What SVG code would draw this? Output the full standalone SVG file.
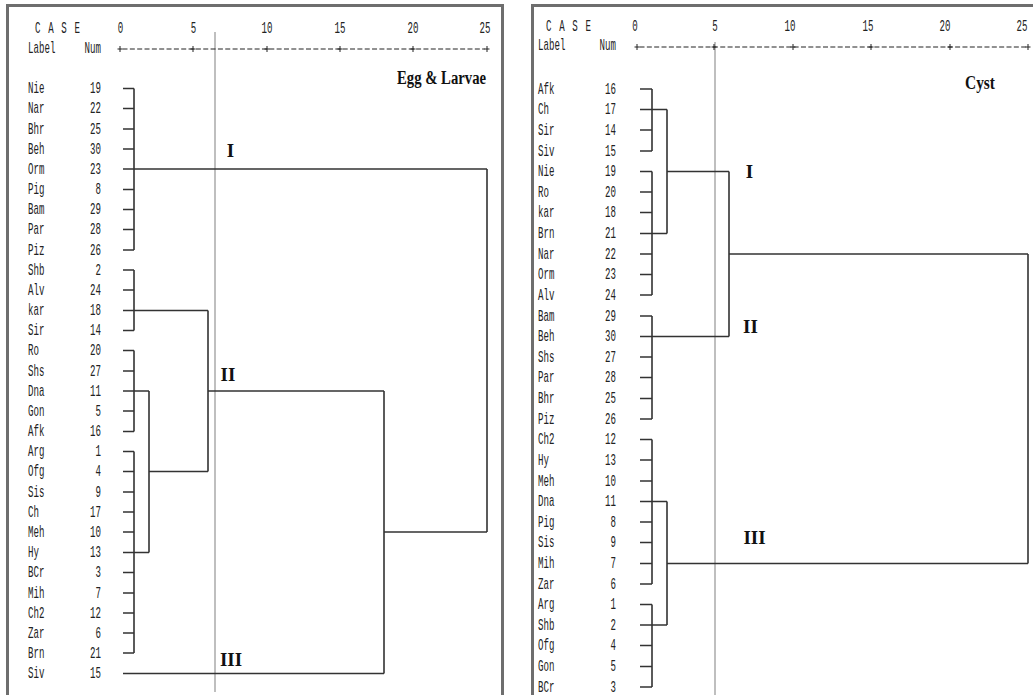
<svg xmlns="http://www.w3.org/2000/svg" width="1033" height="695" viewBox="0 0 1033 695">
<style>
.frame{fill:none;stroke:#6e6e6e;stroke-width:3}
.grid{stroke:#aaaaaa;stroke-width:1.5;fill:none}
.tree{fill:none;stroke:#333;stroke-width:1.6}
.axis{stroke:#222;stroke-width:1;fill:none}
.dash{stroke:#222;stroke-width:1;stroke-dasharray:5 2.34;fill:none}
.mono{font-family:"Liberation Mono","DejaVu Sans Mono",monospace;font-size:16px;fill:#222}
.num{text-anchor:end}
.mid{text-anchor:middle}
.roman{font-family:"Liberation Serif","Times New Roman",serif;font-weight:bold;font-size:19px;fill:#111}
.title{font-family:"Liberation Serif","Times New Roman",serif;font-weight:bold;font-size:18px;fill:#111}
</style>
<rect width="1033" height="695" fill="#fff"/>
<g id="frames">
<path class="frame" d="M7.5,700 V5.5 H502.5 V700"/>
<path class="frame" d="M532.5,700 V5.5 H1040"/>
</g>
<g id="guides">
<line class="grid" x1="215" y1="32" x2="215" y2="692"/>
<line class="grid" x1="715" y1="42" x2="715" y2="695"/>
</g>
<g id="left-axis">
<g class="mono" transform="translate(35,33) scale(0.57 1)"><text x="0" y="0" textLength="79" lengthAdjust="spacing">C A S E</text></g>
<g class="mono" transform="translate(28,53) scale(0.57 1)"><text x="0" y="0">Label</text><text class="num" x="128.1" y="0">Num</text></g>
<g class="mono mid" transform="translate(0,33) scale(0.57 1)">
<text x="211.4" y="0">0</text><text x="339.5" y="0">5</text><text x="468.4" y="0">10</text><text x="596.5" y="0">15</text><text x="724.6" y="0">20</text><text x="850.9" y="0">25</text>
</g>
<line class="dash" x1="122.5" y1="49" x2="485" y2="49"/>
<path class="axis" d="M117.5,49 H122.5 M120,46 V52 M190.5,49 H195.5 M193,46 V52 M264.5,49 H269.5 M267,46 V52 M337.5,49 H342.5 M340,46 V52 M410.5,49 H415.5 M413,46 V52 M484.5,49 H489.5 M487,46 V52"/>
<text class="title" x="486" y="84" text-anchor="end" textLength="89" lengthAdjust="spacingAndGlyphs">Egg &amp; Larvae</text>
</g>
<g id="right-axis">
<g class="mono" transform="translate(546,31) scale(0.57 1)"><text x="0" y="0" textLength="79" lengthAdjust="spacing">C A S E</text></g>
<g class="mono" transform="translate(538,50) scale(0.57 1)"><text x="0" y="0">Label</text><text class="num" x="136.8" y="0">Num</text></g>
<g class="mono mid" transform="translate(0,31) scale(0.57 1)">
<text x="1114" y="0">0</text><text x="1254.4" y="0">5</text><text x="1386" y="0">10</text><text x="1522.8" y="0">15</text><text x="1657.9" y="0">20</text><text x="1793" y="0">25</text>
</g>
<line class="dash" x1="639.5" y1="47" x2="1026" y2="47"/>
<path class="axis" d="M634.5,47 H639.5 M637,44 V50 M711.5,47 H716.5 M714,44 V50 M790.5,47 H795.5 M793,44 V50 M868.5,47 H873.5 M871,44 V50 M947.5,47 H952.5 M950,44 V50 M1025.5,47 H1030.5 M1028,44 V50"/>
<text class="title" x="965" y="89" textLength="30" lengthAdjust="spacingAndGlyphs">Cyst</text>
</g>
<g id="left-leaves" class="mono">
<g id="l-Nie" transform="translate(28,93) scale(0.57 1)"><text x="0">Nie</text><text class="num" x="128.1">19</text></g>
<g id="l-Nar" transform="translate(28,113) scale(0.57 1)"><text x="0">Nar</text><text class="num" x="128.1">22</text></g>
<g id="l-Bhr" transform="translate(28,133.5) scale(0.57 1)"><text x="0">Bhr</text><text class="num" x="128.1">25</text></g>
<g id="l-Beh" transform="translate(28,153.5) scale(0.57 1)"><text x="0">Beh</text><text class="num" x="128.1">30</text></g>
<g id="l-Orm" transform="translate(28,173.5) scale(0.57 1)"><text x="0">Orm</text><text class="num" x="128.1">23</text></g>
<g id="l-Pig" transform="translate(28,194) scale(0.57 1)"><text x="0">Pig</text><text class="num" x="128.1">8</text></g>
<g id="l-Bam" transform="translate(28,214) scale(0.57 1)"><text x="0">Bam</text><text class="num" x="128.1">29</text></g>
<g id="l-Par" transform="translate(28,234) scale(0.57 1)"><text x="0">Par</text><text class="num" x="128.1">28</text></g>
<g id="l-Piz" transform="translate(28,254.5) scale(0.57 1)"><text x="0">Piz</text><text class="num" x="128.1">26</text></g>
<g id="l-Shb" transform="translate(28,274.5) scale(0.57 1)"><text x="0">Shb</text><text class="num" x="128.1">2</text></g>
<g id="l-Alv" transform="translate(28,294.5) scale(0.57 1)"><text x="0">Alv</text><text class="num" x="128.1">24</text></g>
<g id="l-kar" transform="translate(28,315) scale(0.57 1)"><text x="0">kar</text><text class="num" x="128.1">18</text></g>
<g id="l-Sir" transform="translate(28,335) scale(0.57 1)"><text x="0">Sir</text><text class="num" x="128.1">14</text></g>
<g id="l-Ro" transform="translate(28,355) scale(0.57 1)"><text x="0">Ro</text><text class="num" x="128.1">20</text></g>
<g id="l-Shs" transform="translate(28,375.5) scale(0.57 1)"><text x="0">Shs</text><text class="num" x="128.1">27</text></g>
<g id="l-Dna" transform="translate(28,395.5) scale(0.57 1)"><text x="0">Dna</text><text class="num" x="128.1">11</text></g>
<g id="l-Gon" transform="translate(28,415.5) scale(0.57 1)"><text x="0">Gon</text><text class="num" x="128.1">5</text></g>
<g id="l-Afk" transform="translate(28,436) scale(0.57 1)"><text x="0">Afk</text><text class="num" x="128.1">16</text></g>
<g id="l-Arg" transform="translate(28,456) scale(0.57 1)"><text x="0">Arg</text><text class="num" x="128.1">1</text></g>
<g id="l-Ofg" transform="translate(28,476) scale(0.57 1)"><text x="0">Ofg</text><text class="num" x="128.1">4</text></g>
<g id="l-Sis" transform="translate(28,496.5) scale(0.57 1)"><text x="0">Sis</text><text class="num" x="128.1">9</text></g>
<g id="l-Ch" transform="translate(28,516.5) scale(0.57 1)"><text x="0">Ch</text><text class="num" x="128.1">17</text></g>
<g id="l-Meh" transform="translate(28,536.5) scale(0.57 1)"><text x="0">Meh</text><text class="num" x="128.1">10</text></g>
<g id="l-Hy" transform="translate(28,557) scale(0.57 1)"><text x="0">Hy</text><text class="num" x="128.1">13</text></g>
<g id="l-BCr" transform="translate(28,577) scale(0.57 1)"><text x="0">BCr</text><text class="num" x="128.1">3</text></g>
<g id="l-Mih" transform="translate(28,597.5) scale(0.57 1)"><text x="0">Mih</text><text class="num" x="128.1">7</text></g>
<g id="l-Ch2" transform="translate(28,617.5) scale(0.57 1)"><text x="0">Ch2</text><text class="num" x="128.1">12</text></g>
<g id="l-Zar" transform="translate(28,637.5) scale(0.57 1)"><text x="0">Zar</text><text class="num" x="128.1">6</text></g>
<g id="l-Brn" transform="translate(28,657.5) scale(0.57 1)"><text x="0">Brn</text><text class="num" x="128.1">21</text></g>
<g id="l-Siv" transform="translate(28,678) scale(0.57 1)"><text x="0">Siv</text><text class="num" x="128.1">15</text></g>
</g>
<g id="right-leaves" class="mono">
<g id="r-Afk" transform="translate(538,93.5) scale(0.57 1)"><text x="0">Afk</text><text class="num" x="136.8">16</text></g>
<g id="r-Ch" transform="translate(538,114) scale(0.57 1)"><text x="0">Ch</text><text class="num" x="136.8">17</text></g>
<g id="r-Sir" transform="translate(538,134.5) scale(0.57 1)"><text x="0">Sir</text><text class="num" x="136.8">14</text></g>
<g id="r-Siv" transform="translate(538,155.5) scale(0.57 1)"><text x="0">Siv</text><text class="num" x="136.8">15</text></g>
<g id="r-Nie" transform="translate(538,176) scale(0.57 1)"><text x="0">Nie</text><text class="num" x="136.8">19</text></g>
<g id="r-Ro" transform="translate(538,196.5) scale(0.57 1)"><text x="0">Ro</text><text class="num" x="136.8">20</text></g>
<g id="r-kar" transform="translate(538,217) scale(0.57 1)"><text x="0">kar</text><text class="num" x="136.8">18</text></g>
<g id="r-Brn" transform="translate(538,238) scale(0.57 1)"><text x="0">Brn</text><text class="num" x="136.8">21</text></g>
<g id="r-Nar" transform="translate(538,258.5) scale(0.57 1)"><text x="0">Nar</text><text class="num" x="136.8">22</text></g>
<g id="r-Orm" transform="translate(538,279) scale(0.57 1)"><text x="0">Orm</text><text class="num" x="136.8">23</text></g>
<g id="r-Alv" transform="translate(538,299.5) scale(0.57 1)"><text x="0">Alv</text><text class="num" x="136.8">24</text></g>
<g id="r-Bam" transform="translate(538,320.5) scale(0.57 1)"><text x="0">Bam</text><text class="num" x="136.8">29</text></g>
<g id="r-Beh" transform="translate(538,341) scale(0.57 1)"><text x="0">Beh</text><text class="num" x="136.8">30</text></g>
<g id="r-Shs" transform="translate(538,361.5) scale(0.57 1)"><text x="0">Shs</text><text class="num" x="136.8">27</text></g>
<g id="r-Par" transform="translate(538,382) scale(0.57 1)"><text x="0">Par</text><text class="num" x="136.8">28</text></g>
<g id="r-Bhr" transform="translate(538,403) scale(0.57 1)"><text x="0">Bhr</text><text class="num" x="136.8">25</text></g>
<g id="r-Piz" transform="translate(538,423.5) scale(0.57 1)"><text x="0">Piz</text><text class="num" x="136.8">26</text></g>
<g id="r-Ch2" transform="translate(538,444) scale(0.57 1)"><text x="0">Ch2</text><text class="num" x="136.8">12</text></g>
<g id="r-Hy" transform="translate(538,464.5) scale(0.57 1)"><text x="0">Hy</text><text class="num" x="136.8">13</text></g>
<g id="r-Meh" transform="translate(538,485.5) scale(0.57 1)"><text x="0">Meh</text><text class="num" x="136.8">10</text></g>
<g id="r-Dna" transform="translate(538,506) scale(0.57 1)"><text x="0">Dna</text><text class="num" x="136.8">11</text></g>
<g id="r-Pig" transform="translate(538,526.5) scale(0.57 1)"><text x="0">Pig</text><text class="num" x="136.8">8</text></g>
<g id="r-Sis" transform="translate(538,547) scale(0.57 1)"><text x="0">Sis</text><text class="num" x="136.8">9</text></g>
<g id="r-Mih" transform="translate(538,568) scale(0.57 1)"><text x="0">Mih</text><text class="num" x="136.8">7</text></g>
<g id="r-Zar" transform="translate(538,588.5) scale(0.57 1)"><text x="0">Zar</text><text class="num" x="136.8">6</text></g>
<g id="r-Arg" transform="translate(538,609) scale(0.57 1)"><text x="0">Arg</text><text class="num" x="136.8">1</text></g>
<g id="r-Shb" transform="translate(538,629.5) scale(0.57 1)"><text x="0">Shb</text><text class="num" x="136.8">2</text></g>
<g id="r-Ofg" transform="translate(538,650) scale(0.57 1)"><text x="0">Ofg</text><text class="num" x="136.8">4</text></g>
<g id="r-Gon" transform="translate(538,671) scale(0.57 1)"><text x="0">Gon</text><text class="num" x="136.8">5</text></g>
<g id="r-BCr" transform="translate(538,691.5) scale(0.57 1)"><text x="0">BCr</text><text class="num" x="136.8">3</text></g>
</g>
<g id="connectors">
<path class="tree" d="M123,88.5H134 M123,108.5H134 M123,129H134 M123,149H134 M123,169H487 M123,189.5H134 M123,209.5H134 M123,229.5H134 M123,250H134 M123,270H134 M123,290H134 M123,310.5H208 M123,330.5H134 M123,350.5H134 M123,371H134 M123,391H149 M123,411H134 M123,431.5H134 M123,451.5H134 M123,471.5H134 M123,492H134 M123,512H134 M123,532H134 M123,552.5H149 M123,572.5H134 M123,593H134 M123,613H134 M123,633H134 M123,653H134 M123,673.5H384"/>
<path class="tree" d="M134,88.5V250 M134,270V330.5 M134,350.5V431.5 M134,451.5V653 M149,391V552.5 M149,471.5H208 M208,310.5V471.5 M208,391H384 M384,391V673.5 M384,532H487 M487,169V532"/>
<path class="tree" d="M640,89H652 M640,109.5H667 M640,130H652 M640,151H652 M640,171.5H652 M640,192H652 M640,212.5H652 M640,233.5H667 M640,254H652 M640,274.5H652 M640,295H652 M640,316H652 M640,336.5H729 M640,357H652 M640,377.5H652 M640,398.5H652 M640,419H652 M640,439.5H652 M640,460H652 M640,481H652 M640,501.5H667 M640,522H652 M640,542.5H652 M640,563.5H652 M640,584H652 M640,604.5H652 M640,625H667 M640,645.5H652 M640,666.5H652 M640,687H652"/>
<path class="tree" d="M652,89V151 M652,171.5V295 M652,316V419 M652,439.5V584 M652,604.5V687 M667,109.5V233.5 M667,171.5H729 M729,171.5V336.5 M729,254H1028 M1028,254V563.5 M667,563.5H1028 M667,501.5V625"/>
</g>
<g id="cluster-labels">
<text class="roman" x="230.5" y="157" text-anchor="middle">I</text>
<text class="roman" x="228" y="381" text-anchor="middle">II</text>
<text class="roman" x="231" y="666" text-anchor="middle">III</text>
<text class="roman" x="749.5" y="178" text-anchor="middle">I</text>
<text class="roman" x="750.5" y="333" text-anchor="middle">II</text>
<text class="roman" x="754.5" y="544" text-anchor="middle">III</text>
</g>
</svg>
